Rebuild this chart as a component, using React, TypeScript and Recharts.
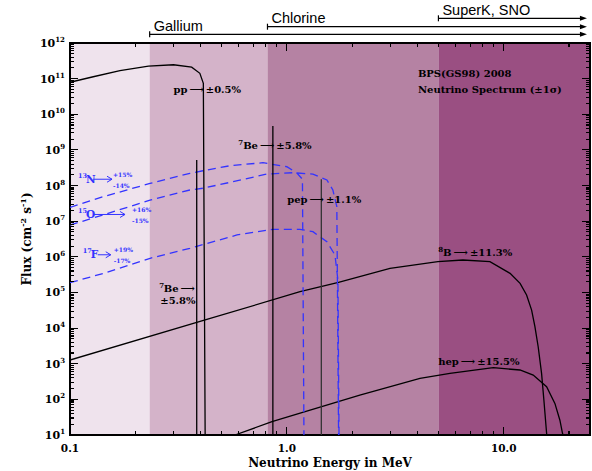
import React from "react";
import {
  ComposedChart,
  Line,
  XAxis,
  YAxis,
  ReferenceArea,
  ReferenceLine,
  ReferenceDot,
} from "recharts";

const SERIF = "'DejaVu Serif', 'Liberation Serif', serif";
const SANS = "'Liberation Sans', Arial, sans-serif";
const BLUE = "#3333ff";

// energy in MeV, flux in cm^-2 s^-1 (per MeV for the continua)
const ppSpectrum = [
  [0.1, 7.9e10], [0.128, 1.13e11], [0.17, 1.67e11], [0.23, 2.25e11], [0.3, 2.45e11],
  [0.364, 2.1e11], [0.397, 1.41e11], [0.412, 7.4e10], [0.42, 10],
];
const b8Spectrum = [
  [0.1, 1.27e3], [0.42, 1.69e4], [1.15, 1.05e5], [1.73, 1.92e5], [2.99, 4.75e5],
  [4.97, 7.3e5], [6.48, 8.13e5], [8.64, 7.3e5], [10.7, 3.44e5], [11.9, 1.8e5],
  [12.75, 8.5e4], [13.45, 3.2e4], [13.93, 1.1e4], [14.42, 3.0e3], [14.95, 538],
  [15.32, 96], [15.77, 11.2], [15.8, 10],
];
const hepSpectrum = [
  [0.576, 10], [0.854, 23.6], [1.726, 86], [2.17, 132], [4.11, 390], [5.65, 538],
  [8.95, 773], [11.88, 667], [13.68, 482], [15.77, 226], [17.22, 77], [18.16, 26],
  [18.68, 11], [18.77, 10],
];
const n13Spectrum = [
  [0.1, 2.45e7], [0.142, 4.85e7], [0.234, 1.15e8], [0.357, 2.2e8], [0.41, 2.6e8],
  [0.547, 3.6e8], [0.776, 4.37e8], [1.0, 3.37e8], [1.113, 2.24e8], [1.18, 1.5e8],
  [1.199, 10],
];
const o15Spectrum = [
  [0.1, 7.8e6], [0.142, 1.49e7], [0.234, 3.9e7], [0.357, 7.5e7], [0.41, 8.4e7],
  [0.564, 1.28e8], [0.81, 2.1e8], [1.067, 2.29e8], [1.319, 2.1e8], [1.53, 1.43e8],
  [1.63, 7.5e7], [1.7, 2.55e7], [1.732, 10],
];
const f17Spectrum = [
  [0.1, 1.88e5], [0.142, 3.4e5], [0.234, 9.1e5], [0.357, 1.73e6], [0.589, 4.1e6],
  [0.863, 5.9e6], [1.149, 5.9e6], [1.319, 5.06e6], [1.53, 2.65e6], [1.667, 1.12e6],
  [1.72, 2.2e5], [1.74, 10],
];
// line sources: energy, flux
const be7Lines = [[0.384, 5.2e8], [0.862, 4.7e9]];
const pepLines = [[1.442, 1.5e8]];

const bandEdges = [0.1, 0.233, 0.814, 5.0, 25];
const bandFills = ["#efe3ed", "#d4b3c9", "#b582a3", "#9a4f82"];

const detectors = ["Gallium", "Chlorine", "SuperK, SNO"];
const detectorThresholds = [0.233, 0.814, 5.0];
const detectorArrowEnd = 24.2;

const sourceLabels = [
  { e: 0.3, f: 3.9e10, sup: "", name: "pp", err: "±0.5%" },
  { e: 0.597, f: 1.04e9, sup: "7", name: "Be", err: "±5.8%" },
  { e: 1.004, f: 3.17e7, sup: "", name: "pep", err: "±1.1%" },
  { e: 4.99, f: 1.05e6, sup: "8", name: "B", err: "±11.3%" },
  { e: 4.99, f: 920, sup: "", name: "hep", err: "±15.5%" },
];
const be7LowLabel = { e: 0.258, f: 1.05e5, sup: "7", name: "Be", err: "±5.8%" };
const cnoLabels = [
  { e: 0.1089, f: 1.2e8, sup: "13", name: "N", up: "+15%", down: "-14%" },
  { e: 0.1089, f: 1.23e7, sup: "15", name: "O", up: "+16%", down: "-15%" },
  { e: 0.1145, f: 9.1e5, sup: "17", name: "F", up: "+19%", down: "-17%" },
];
const titleLines = ["BPS(GS98) 2008", "Neutrino Spectrum (±1σ)"];
const titleAt = { e: 4.02, f: 1.09e11 };

const xTicks: number[] = [];
for (let k = -1; k <= 1; k++)
  for (let m = 1; m <= 9; m++) if (m * 10 ** k <= 25) xTicks.push(m * 10 ** k);
const yTicks: number[] = [];
for (let k = 1; k <= 11; k++) for (let m = 1; m <= 9; m++) yTicks.push(m * 10 ** k);
yTicks.push(1e12);

const isMajor = (v: number) => Math.abs(Math.log10(v) - Math.round(Math.log10(v))) < 1e-6;
const pts = (a: number[][]) => a.map(([e, f]) => ({ e, f }));

const BottomLabel = ({ x, y, payload }: any) =>
  isMajor(payload.value) ? (
    <text x={x} y={y + 17} textAnchor="middle" fontFamily={SERIF} fontWeight="bold" fontSize={10.5}>
      {payload.value.toFixed(1)}
    </text>
  ) : (
    <g />
  );
const LeftLabel = ({ x, y, payload }: any) =>
  isMajor(payload.value) ? (
    <text x={x - 5} y={y + 4} textAnchor="end" fontFamily={SERIF} fontWeight="bold" fontSize={11}>
      10<tspan dy={-5} fontSize={7}>{Math.round(Math.log10(payload.value))}</tspan>
    </text>
  ) : (
    <g />
  );

// inward tick marks on both sides of the frame
const XTickMarks = (p: any, v: number) => {
  const len = isMajor(v) ? 8 : 4;
  const top = Math.min(p.y1, p.y2);
  const bot = Math.max(p.y1, p.y2);
  return (
    <g stroke="#000" strokeWidth={1.1} shapeRendering="crispEdges">
      <line x1={p.x1} y1={bot} x2={p.x1} y2={bot - len} />
      <line x1={p.x1} y1={top} x2={p.x1} y2={top + len} />
    </g>
  );
};
const YTickMarks = (p: any, v: number) => {
  const len = isMajor(v) ? 8 : 4;
  const l = Math.min(p.x1, p.x2);
  const r = Math.max(p.x1, p.x2);
  return (
    <g stroke="#000" strokeWidth={1.1} shapeRendering="crispEdges">
      <line x1={l} y1={p.y1} x2={l + len} y2={p.y1} />
      <line x1={r} y1={p.y1} x2={r - len} y2={p.y1} />
    </g>
  );
};

const Bracket = (p: any, name: string, lift: number) => {
  const y = p.y1 - lift;
  return (
    <g>
      <line x1={p.x1} y1={y} x2={p.x2 - 5} y2={y} stroke="#000" strokeWidth={1.2} />
      <line x1={p.x1} y1={y - 3} x2={p.x1} y2={y + 3} stroke="#000" strokeWidth={1.2} />
      <path d={`M${p.x2},${y} L${p.x2 - 7},${y - 2.5} L${p.x2 - 7},${y + 2.5} Z`} fill="#000" />
      <text x={p.x1 + 4} y={y - 3.5} fontFamily={SANS} fontSize={14.5} fill="#000">
        {name}
      </text>
    </g>
  );
};

const SourceText = (p: any, l: any) => (
  <text x={p.cx} y={p.cy} fontFamily={SERIF} fontWeight="bold" fontSize={10} fill="#000">
    {l.sup && <tspan fontSize={7} dy={-4}>{l.sup}</tspan>}
    <tspan dy={l.sup ? 4 : 0}>{l.name}</tspan>
    <tspan>{"\u2009⟶\u2009"}</tspan>
    <tspan>{l.err}</tspan>
  </text>
);

const CnoText = (p: any, l: any, arrowLen: number, gap: number) => {
  const ax = p.cx + 15;
  const ay = p.cy - 3.5;
  const tx = ax + arrowLen + gap;
  return (
    <g fill={BLUE} fontFamily={SERIF} fontWeight="bold">
      <text x={p.cx} y={p.cy - 5} fontSize={6.5}>{l.sup}</text>
      <text x={p.cx + 8} y={p.cy} fontSize={10.5}>{l.name}</text>
      <line x1={ax} y1={ay} x2={ax + arrowLen} y2={ay} stroke={BLUE} strokeWidth={1} />
      <path d={`M${ax + arrowLen - 5},${ay - 3} L${ax + arrowLen},${ay} L${ax + arrowLen - 5},${ay + 3}`} stroke={BLUE} fill="none" />
      <text x={tx} y={p.cy - 6} fontSize={6}>{l.up}</text>
      <text x={tx} y={p.cy + 5} fontSize={6}>{l.down}</text>
    </g>
  );
};

const cnoArrow = [19, 32, 13];
const cnoGap = [1, 7, 3];
const bracketLift = [8.7, 16.3, 24.7];

export default function App() {
  return (
    <div style={{ position: "absolute", left: 0, top: 0, background: "#fff" }}>
      <ComposedChart width={592} height={471} margin={{ top: 43, right: 2, bottom: 0, left: 0 }}>
        {bandFills.map((c, i) => (
          <ReferenceArea
            key={c}
            x1={bandEdges[i]}
            x2={bandEdges[i + 1]}
            y1={10}
            y2={1e12}
            fill={c}
            fillOpacity={1}
            stroke="none"
          />
        ))}

        <XAxis
          dataKey="e"
          type="number"
          scale="log"
          domain={[0.1, 25]}
          allowDataOverflow
          ticks={xTicks}
          interval={0}
          tickSize={0}
          tickMargin={0}
          tickLine={false}
          axisLine={false}
          height={36}
          tick={<BottomLabel />}
          label={{
            content: (props: any) => {
              const vb = props.viewBox;
              return (
                <text x={vb.x + vb.width / 2} y={vb.y + 32} textAnchor="middle" fontFamily={SERIF} fontWeight="bold" fontSize={12}>
                  Neutrino Energy in MeV
                </text>
              );
            },
          }}
        />
        <YAxis
          type="number"
          scale="log"
          domain={[10, 1e12]}
          allowDataOverflow
          ticks={yTicks}
          interval={0}
          tickSize={0}
          tickMargin={0}
          tickLine={false}
          axisLine={false}
          width={70}
          tick={<LeftLabel />}
          label={{
            content: (props: any) => {
              const vb = props.viewBox;
              const cx = 31;
              const cy = vb.y + vb.height / 2;
              return (
                <text x={cx} y={cy} transform={`rotate(-90, ${cx}, ${cy})`} textAnchor="middle" fontFamily={SERIF} fontWeight="bold" fontSize={12}>
                  Flux (cm<tspan dy={-5} fontSize={8}>-2</tspan>
                  <tspan dy={5}> s</tspan>
                  <tspan dy={-5} fontSize={8}>-1</tspan>
                  <tspan dy={5}>)</tspan>
                </text>
              );
            },
          }}
        />

        {[ppSpectrum, b8Spectrum, hepSpectrum].map((s, i) => (
          <Line key={"c" + i} data={pts(s)} dataKey="f" type="linear" stroke="#000" strokeWidth={1.3} dot={false} isAnimationActive={false} />
        ))}
        {[n13Spectrum, o15Spectrum, f17Spectrum].map((s, i) => (
          <Line key={"cno" + i} data={pts(s)} dataKey="f" type="linear" stroke={BLUE} strokeWidth={1.3} strokeDasharray="8 5" dot={false} isAnimationActive={false} />
        ))}
        {be7Lines.map(([e, f]) => (
          <Line key={"be" + e} data={[{ e, f: 10 }, { e, f }]} dataKey="f" stroke="#000" strokeWidth={1.3} dot={false} isAnimationActive={false} />
        ))}
        {pepLines.map(([e, f]) => (
          <Line key={"pep" + e} data={[{ e, f: 10 }, { e, f }]} dataKey="f" stroke="#333" strokeWidth={1.3} dot={false} isAnimationActive={false} />
        ))}

        {xTicks.map((v) => (
          <ReferenceLine key={"xt" + v} x={v} ifOverflow="visible" shape={(p: any) => XTickMarks(p, v)} />
        ))}
        {yTicks.map((v) => (
          <ReferenceLine key={"yt" + v} y={v} ifOverflow="visible" shape={(p: any) => YTickMarks(p, v)} />
        ))}
        <ReferenceArea x1={0.1} x2={25} y1={10} y2={1e12} fill="none" stroke="#000" strokeWidth={2} ifOverflow="visible" />

        {detectors.map((d, i) => (
          <ReferenceLine
            key={d}
            segment={[{ x: detectorThresholds[i], y: 1e12 }, { x: detectorArrowEnd, y: 1e12 }]}
            ifOverflow="visible"
            shape={(p: any) => Bracket(p, d, bracketLift[i])}
          />
        ))}

        {sourceLabels.map((l) => (
          <ReferenceDot key={l.name + l.e} x={l.e} y={l.f} r={0} ifOverflow="visible" shape={(p: any) => SourceText(p, l)} />
        ))}
        <ReferenceDot
          x={be7LowLabel.e}
          y={be7LowLabel.f}
          r={0}
          ifOverflow="visible"
          shape={(p: any) => (
            <text fontFamily={SERIF} fontWeight="bold" fontSize={10} fill="#000">
              <tspan x={p.cx} y={p.cy - 4} fontSize={7}>{be7LowLabel.sup}</tspan>
              <tspan x={p.cx + 4.5} y={p.cy}>{be7LowLabel.name + "\u2009⟶"}</tspan>
              <tspan x={p.cx + 1} y={p.cy + 12.5}>{be7LowLabel.err}</tspan>
            </text>
          )}
        />
        {cnoLabels.map((l, i) => (
          <ReferenceDot key={l.name} x={l.e} y={l.f} r={0} ifOverflow="visible" shape={(p: any) => CnoText(p, l, cnoArrow[i], cnoGap[i])} />
        ))}
        <ReferenceDot
          x={titleAt.e}
          y={titleAt.f}
          r={0}
          ifOverflow="visible"
          shape={(p: any) => (
            <text fontFamily={SERIF} fontWeight="bold" fontSize={10} fill="#000">
              {titleLines.map((t, i) => (
                <tspan key={t} x={p.cx} y={p.cy + i * 15.7}>{t}</tspan>
              ))}
            </text>
          )}
        />
      </ComposedChart>
    </div>
  );
}
